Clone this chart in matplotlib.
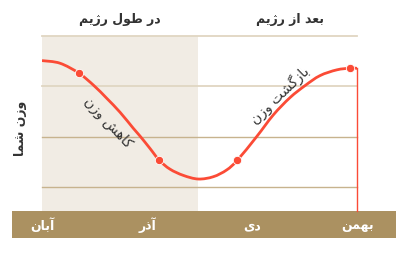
import matplotlib
matplotlib.use("Agg")
import matplotlib.pyplot as plt
from matplotlib import transforms
from matplotlib.patches import Rectangle, PathPatch
from matplotlib.path import Path

# ---------------- data ----------------
months = ["آبان", "آذر", "دی", "بهمن"]
month_pos = [0, 1, 2, 3]
curve_x = [0.0, 0.171, 0.352, 0.494, 0.615, 0.742, 0.868, 0.932, 1.027, 1.115,
           1.217, 1.344, 1.486, 1.629, 1.756, 1.857, 2.041, 2.199, 2.358, 2.501,
           2.643, 2.802, 2.931, 3.0]
curve_y = [72.56, 72.30, 71.31, 70.08, 68.83, 67.44, 65.85, 65.08, 63.85, 62.68,
           61.80, 61.18, 60.82, 61.05, 61.72, 62.68, 65.02, 67.17, 68.89, 70.08,
           71.07, 71.64, 71.81, 71.79]
marker_x = [0.352, 1.115, 1.857, 2.931]
marker_y = [71.31, 62.68, 62.68, 71.81]
grid_dark = [60, 65]
grid_light = [70, 75]
diet_end = 1.48
period_labels = ["در طول رژیم", "بعد از رژیم"]
curve_labels = ["کاهش وزن", "بازگشت وزن"]
y_label = "وزن شما"

# ------------- simple Persian shaping -------------
FORMS = {
    "ا": ("\uFE8D", "\uFE8E"), "آ": ("\uFE81", "\uFE82"),
    "د": ("\uFEA9", "\uFEAA"), "ذ": ("\uFEAB", "\uFEAC"),
    "ر": ("\uFEAD", "\uFEAE"), "ز": ("\uFEAF", "\uFEB0"),
    "ژ": ("\uFB8A", "\uFB8B"), "و": ("\uFEED", "\uFEEE"),
    "ب": ("\uFE8F", "\uFE90", "\uFE91", "\uFE92"),
    "ت": ("\uFE95", "\uFE96", "\uFE97", "\uFE98"),
    "ش": ("\uFEB5", "\uFEB6", "\uFEB7", "\uFEB8"),
    "ط": ("\uFEC1", "\uFEC2", "\uFEC3", "\uFEC4"),
    "ع": ("\uFEC9", "\uFECA", "\uFECB", "\uFECC"),
    "ل": ("\uFEDD", "\uFEDE", "\uFEDF", "\uFEE0"),
    "م": ("\uFEE1", "\uFEE2", "\uFEE3", "\uFEE4"),
    "ن": ("\uFEE5", "\uFEE6", "\uFEE7", "\uFEE8"),
    "ه": ("\uFEE9", "\uFEEA", "\uFEEB", "\uFEEC"),
    "ی": ("\uFBFC", "\uFBFD", "\uFBFE", "\uFBFF"),
    "ک": ("\uFB8E", "\uFB8F", "\uFB90", "\uFB91"),
    "گ": ("\uFB92", "\uFB93", "\uFB94", "\uFB95"),
}


def shape(s):
    out = []
    for i, c in enumerate(s):
        if c not in FORMS:
            out.append(c)
            continue
        f = FORMS[c]
        prev_j = i > 0 and s[i - 1] in FORMS and len(FORMS[s[i - 1]]) == 4
        next_j = len(f) == 4 and i + 1 < len(s) and s[i + 1] in FORMS
        if prev_j and next_j:
            out.append(f[3])
        elif next_j:
            out.append(f[2])
        elif prev_j:
            out.append(f[1])
        else:
            out.append(f[0])
    return "".join(out)[::-1]


def smooth_path(xs, ys):
    """Catmull-Rom curve through the read points, as cubic Bezier segments."""
    pts = list(zip(xs, ys))
    verts = [pts[0]]
    codes = [Path.MOVETO]
    n = len(pts)
    for i in range(n - 1):
        p0 = pts[i - 1] if i > 0 else pts[i]
        p1 = pts[i]
        p2 = pts[i + 1]
        p3 = pts[i + 2] if i + 2 < n else pts[i + 1]
        c1 = (p1[0] + (p2[0] - p0[0]) / 6, p1[1] + (p2[1] - p0[1]) / 6)
        c2 = (p2[0] - (p3[0] - p1[0]) / 6, p2[1] - (p3[1] - p1[1]) / 6)
        verts += [c1, c2, p2]
        codes += [Path.CURVE4] * 3
    return Path(verts, codes)


plt.rcParams["font.family"] = ["DejaVu Sans"]

W, H = 410, 254
fig = plt.figure(figsize=(W / 100, H / 100), dpi=100)

# bottom band
fig.patches.append(Rectangle((12 / W, (H - 238) / H), 384 / W, 27.3 / H,
                             transform=fig.transFigure, facecolor="#AB9161",
                             edgecolor="none", zorder=-1))

ax = fig.add_axes([42 / W, (H - 210.7) / H, (357.5 - 42) / W, (210.7 - 36) / H])
ax.set_xlim(0, 3)
ax.set_ylim(57.68, 75.0)
ax.axis("off")

ax.axvspan(0, diet_end, color="#F1ECE4", zorder=0, lw=0)
for g in grid_dark:
    ax.axhline(g, color="#C7B38E", lw=1.0, zorder=1, clip_on=False)
for g in grid_light:
    ax.axhline(g, color="#E0D6C2", lw=1.3, zorder=1, clip_on=False)

red = "#FB4B36"
ax.add_patch(PathPatch(smooth_path(curve_x, curve_y), facecolor="none",
                       edgecolor=red, lw=2.0, zorder=3, capstyle="butt"))
ax.scatter(marker_x, marker_y, s=36, color=red, edgecolor="white",
           linewidth=0.6, zorder=4)
ax.plot([curve_x[-1], curve_x[-1]], [curve_y[-1], 57.68], color=red, lw=1.0,
        zorder=3, clip_on=False)

# month labels inside the band
tr = transforms.blended_transform_factory(ax.transData, fig.transFigure)
for p, m in zip(month_pos, months):
    fig.text(0, 0, shape(m), transform=tr, ha="center", va="center",
             color="white", fontsize=9, fontweight="bold").set_position(
        (p, (H - 225.5) / H))

# period labels
fig.text(120 / W, (H - 20) / H, shape(period_labels[0]), ha="center",
         va="center", fontsize=9, fontweight="bold", color="#333333")
fig.text(290 / W, (H - 20) / H, shape(period_labels[1]), ha="center",
         va="center", fontsize=9, fontweight="bold", color="#333333")

# y label
fig.text(21 / W, (H - 128) / H, shape(y_label), ha="center", va="center",
         rotation=90, fontsize=9, fontweight="bold", color="#333333")

# curve labels
fig.text(108 / W, (H - 123) / H, shape(curve_labels[0]), ha="center",
         va="center", rotation=-47, rotation_mode="anchor", fontsize=10,
         color="#333333")
fig.text(280 / W, (H - 95) / H, shape(curve_labels[1]), ha="center",
         va="center", rotation=44, rotation_mode="anchor", fontsize=10,
         color="#333333")

fig.savefig("out.png", dpi=100)
